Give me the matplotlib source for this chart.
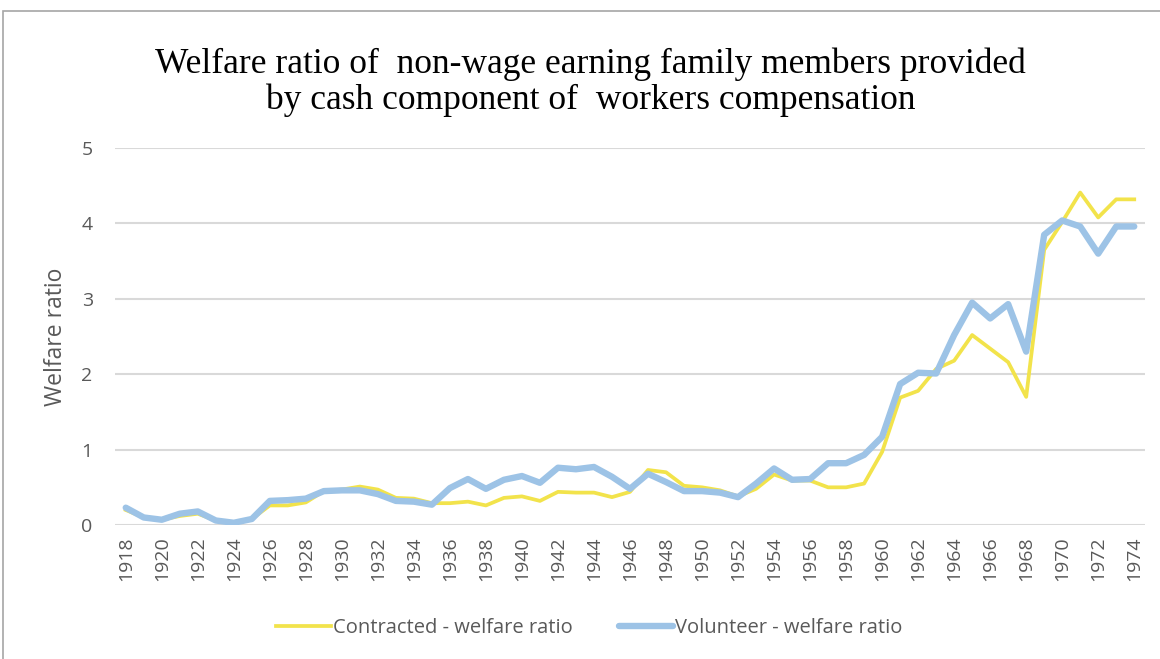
import matplotlib.pyplot as plt
from matplotlib.patches import Rectangle
import numpy as np

# Data
years = list(range(1918, 1975))
contracted = [0.20, 0.10, 0.07, 0.12, 0.15, 0.06, 0.03, 0.08, 0.26, 0.26,
              0.30, 0.45, 0.47, 0.51, 0.47, 0.36, 0.35, 0.29, 0.29, 0.31,
              0.26, 0.36, 0.38, 0.32, 0.44, 0.43, 0.43, 0.37, 0.44, 0.73,
              0.70, 0.52, 0.50, 0.46, 0.38, 0.48, 0.67, 0.59, 0.59, 0.50,
              0.50, 0.55, 0.97, 1.69, 1.78, 2.07, 2.18, 2.52, 2.34, 2.16,
              1.70, 3.65, 4.02, 4.41, 4.08, 4.32, 4.32]
volunteer = [0.23, 0.10, 0.07, 0.15, 0.18, 0.06, 0.03, 0.08, 0.32, 0.33,
             0.35, 0.45, 0.46, 0.46, 0.41, 0.32, 0.31, 0.27, 0.49, 0.61,
             0.48, 0.60, 0.65, 0.56, 0.76, 0.74, 0.77, 0.64, 0.48, 0.68,
             0.57, 0.45, 0.45, 0.43, 0.37, 0.55, 0.75, 0.60, 0.61, 0.82,
             0.82, 0.93, 1.17, 1.87, 2.02, 2.01, 2.52, 2.95, 2.74, 2.93,
             2.30, 3.85, 4.04, 3.96, 3.60, 3.96, 3.96]
series_labels = ['Contracted - welfare ratio', 'Volunteer - welfare ratio']
title = 'Welfare ratio of  non-wage earning family members provided\nby cash component of  workers compensation'

yellow = '#F2E34B'
blue = '#9DC3E6'
text_gray = '#595959'

fig = plt.figure(figsize=(11.6, 6.59), dpi=100)
ax = fig.add_axes([0.0991, 0.2033, 0.888, 0.572])

# chart area border
fig.patches.append(Rectangle((3 / 1160, -0.01), 1.02, 1 - 11 / 659 + 0.01,
                             transform=fig.transFigure, fill=False,
                             edgecolor='#A6A6A6', linewidth=1.2))

ax.plot(years, contracted, color=yellow, linewidth=2.7, label=series_labels[0],
        zorder=3)
ax.plot(years, volunteer, color=blue, linewidth=4.6, label=series_labels[1],
        solid_capstyle='round', zorder=4)

ax.set_xlim(1917.4, 1974.6)
ax.set_ylim(0, 5)
ax.set_yticks(range(0, 6))
ax.set_xticks(years[::2])
ax.set_xticklabels([str(y) for y in years[::2]], rotation=90,
                   family='Open Sans', fontsize=14, color=text_gray)
ax.set_yticklabels([str(v) for v in range(0, 6)], family='Open Sans',
                   fontsize=14, color=text_gray)
ax.tick_params(length=0)
ax.tick_params(axis='x', pad=8)
ax.tick_params(axis='y', pad=16)
ax.grid(axis='y', color='#D9D9D9', linewidth=1.5)
ax.set_axisbelow(True)
for s in ax.spines.values():
    s.set_visible(False)

ax.set_ylabel('Welfare ratio', family='Open Sans', fontsize=16.5,
              color=text_gray, labelpad=10)

fig.text(0.509, 0.875, title, ha='center', va='center',
         family='Liberation Serif', fontsize=25.5, linespacing=1.12)

leg = fig.legend(loc='center', bbox_to_anchor=(0.508, 0.047), ncol=2,
                 frameon=False, handlelength=2.7, columnspacing=2.3,
                 handletextpad=0.1, prop={'family': 'Open Sans', 'size': 14.5})
for t in leg.get_texts():
    t.set_color(text_gray)

fig.savefig('out.png', dpi=100)
